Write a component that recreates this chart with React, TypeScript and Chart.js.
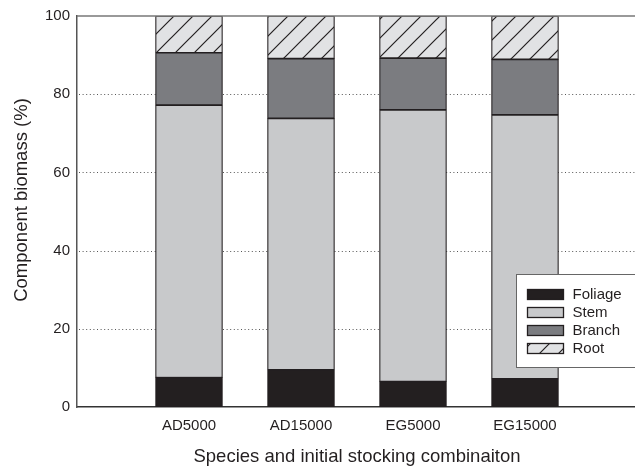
import React, { useEffect, useRef } from 'react';
import { Chart, registerables } from 'chart.js';

Chart.register(...registerables);

const categories = ['AD5000', 'AD15000', 'EG5000', 'EG15000'];
const seriesNames = ['Foliage', 'Stem', 'Branch', 'Root'];
const foliage = [7.5, 9.5, 6.5, 7.2];
const stem = [69.7, 64.3, 69.5, 67.5];
const branch = [13.4, 15.3, 13.2, 14.2];
const root = [9.4, 10.9, 10.8, 11.1];
const yTickValues = [0, 20, 40, 60, 80, 100];
const xTitle = 'Species and initial stocking combinaiton';
const yTitle = 'Component biomass (%)';

const FONT = '"Liberation Sans", Arial, sans-serif';
const INK = '#231f20';

function makeHatch(): CanvasPattern | string {
  const size = 19;
  const c = document.createElement('canvas');
  c.width = size;
  c.height = size;
  const g = c.getContext('2d');
  if (!g) return '#e1e2e4';
  g.fillStyle = '#e1e2e4';
  g.fillRect(0, 0, size, size);
  g.strokeStyle = INK;
  g.lineWidth = 1.2;
  g.beginPath();
  g.moveTo(-2, size + 2);
  g.lineTo(size + 2, -2);
  g.moveTo(-2, 2);
  g.lineTo(2, -2);
  g.moveTo(size - 2, size + 2);
  g.lineTo(size + 2, size - 2);
  g.stroke();
  const p = g.createPattern(c, 'repeat');
  return p || '#e1e2e4';
}

const pad = (arr: number[]) => [null, ...arr, null];

export default function App() {
  const ref = useRef<HTMLCanvasElement | null>(null);

  useEffect(() => {
    const canvas = ref.current;
    if (!canvas) return;
    const hatch = makeHatch();
    const colors = ['#231f20', '#c8c9cb', '#7b7c80', hatch];
    const values = [foliage, stem, branch, root];

    const overlay = {
      id: 'overlay',
      beforeDatasetsDraw(chart: any) {
        const { ctx, chartArea } = chart;
        const y = chart.scales.y;
        ctx.save();
        ctx.strokeStyle = '#555';
        ctx.lineWidth = 1;
        ctx.setLineDash([1, 2.6]);
        y.ticks.forEach((t: any) => {
          if (t.value <= y.min || t.value >= y.max) return;
          const py = Math.round(y.getPixelForValue(t.value)) + 0.5;
          ctx.beginPath();
          ctx.moveTo(chartArea.left + 2, py);
          ctx.lineTo(chartArea.right, py);
          ctx.stroke();
        });
        ctx.restore();
      },
      afterDatasetsDraw(chart: any) {
        const { ctx, chartArea } = chart;
        ctx.save();
        ctx.strokeStyle = '#777';
        ctx.lineWidth = 1.5;
        ctx.beginPath();
        ctx.moveTo(chartArea.left, chartArea.top);
        ctx.lineTo(chartArea.right, chartArea.top);
        ctx.stroke();
        ctx.restore();
      },
      afterDraw(chart: any) {
        const { ctx, chartArea } = chart;
        ctx.save();
        // y axis title
        ctx.fillStyle = INK;
        ctx.font = `18.5px ${FONT}`;
        ctx.textAlign = 'center';
        ctx.textBaseline = 'middle';
        ctx.translate(22, (chartArea.top + chartArea.bottom) / 2 - 11.5);
        ctx.rotate(-Math.PI / 2);
        ctx.fillText(yTitle, 0, 0);
        ctx.restore();

        // legend
        ctx.save();
        const bx = Math.round(chartArea.right - 121) + 0.5;
        const by = Math.round(chartArea.top + 258) + 0.5;
        const bw = 140;
        const bh = 93;
        ctx.fillStyle = '#fff';
        ctx.fillRect(bx, by, bw, bh);
        ctx.strokeStyle = '#666';
        ctx.lineWidth = 1;
        ctx.strokeRect(bx, by, bw, bh);
        ctx.font = `15px ${FONT}`;
        ctx.textAlign = 'left';
        ctx.textBaseline = 'middle';
        chart.data.datasets.forEach((ds: any, i: number) => {
          const sx = bx + 11;
          const sy = by + 15 + i * 18;
          ctx.fillStyle = ds.backgroundColor;
          ctx.fillRect(sx, sy, 36, 10);
          ctx.strokeStyle = INK;
          ctx.lineWidth = 1.3;
          ctx.strokeRect(sx, sy, 36, 10);
          ctx.fillStyle = INK;
          ctx.fillText(ds.label, bx + 56, sy + 5.5);
        });
        ctx.restore();
      },
    };

    const chart = new Chart(canvas, {
      type: 'bar',
      data: {
        labels: ['', ...categories, ''],
        datasets: seriesNames.map((name, i) => ({
          label: name,
          data: pad(values[i]) as any,
          backgroundColor: colors[i] as any,
          borderColor: INK,
          borderWidth: 1.2,
          borderSkipped: false,
          barThickness: 67,
        })),
      },
      options: {
        responsive: false,
        animation: false,
        layout: { padding: { top: 16, left: 0, right: 0, bottom: 0 } },
        plugins: {
          legend: { display: false },
          tooltip: { enabled: false },
        },
        scales: {
          x: {
            type: 'category',
            stacked: true,
            offset: false,
            grid: { display: false, drawTicks: false },
            border: { display: true, color: '#333', width: 1.6 },
            ticks: {
              color: INK,
              font: { size: 15, family: FONT },
              padding: 10,
              maxRotation: 0,
              autoSkip: false,
            },
            title: {
              display: true,
              text: xTitle,
              color: INK,
              font: { size: 18.5, family: FONT, lineHeight: 1 },
              padding: { top: 0, bottom: 1 },
            },
            afterFit(scale: any) {
              scale.height = 60;
            },
          },
          y: {
            stacked: true,
            min: 0,
            max: 100,
            grid: { display: false, drawTicks: false },
            border: { display: true, color: '#555', width: 1.5 },
            afterBuildTicks(scale: any) {
              scale.ticks = yTickValues.map((v) => ({ value: v }));
            },
            ticks: {
              color: INK,
              font: { size: 15, family: FONT },
              padding: 7,
            },
            afterFit(scale: any) {
              scale.width = 77;
            },
          },
        },
      },
      plugins: [overlay],
    });

    return () => {
      chart.destroy();
    };
  }, []);

  return (
    <div
      style={{
        position: 'absolute',
        left: 0,
        top: 0,
        width: 635,
        height: 467,
        overflow: 'hidden',
        background: '#fff',
      }}
    >
      <canvas ref={ref} width={647} height={467} style={{ display: 'block' }} />
    </div>
  );
}
